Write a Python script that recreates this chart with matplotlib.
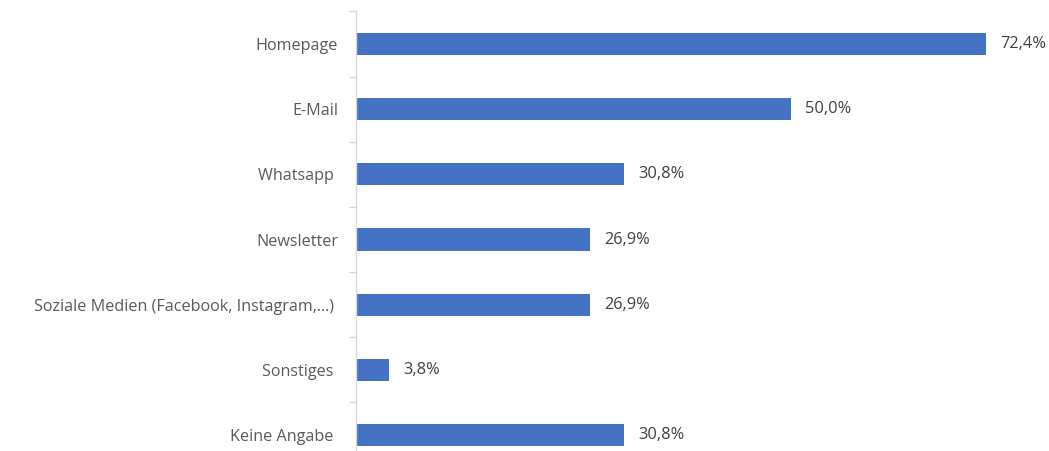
import matplotlib
matplotlib.use("Agg")
import matplotlib.pyplot as plt
from matplotlib.ticker import FixedLocator, NullFormatter

categories = ["Homepage", "E-Mail", "Whatsapp ", "Newsletter",
              "Soziale Medien (Facebook, Instagram,...) ", "Sonstiges ", "Keine Angabe "]
values = [72.4, 50.0, 30.8, 26.9, 26.9, 3.8, 30.8]
value_labels = ["72,4%", "50,0%", "30,8%", "26,9%", "26,9%", "3,8%", "30,8%"]

plt.rcParams['font.family'] = ['Open Sans', 'DejaVu Sans']

W, H = 1049, 451
fig = plt.figure(figsize=(W / 100, H / 100), dpi=100)
left_px = 356
px_per_unit = 8.70
top_px = 11.4
bottom_px = 467.6
ax = fig.add_axes([left_px / W, (H - bottom_px) / H, (W - left_px) / W, (bottom_px - top_px) / H])

y = list(range(len(categories)))
ax.barh(y, values, height=0.34, color="#4472C4")
ax.set_xlim(0, (W - left_px) / px_per_unit)
ax.set_ylim(len(categories) - 0.5, -0.5)

for yi, v, lab in zip(y, values, value_labels):
    ax.annotate(lab, (v, yi), xytext=(10, 0), textcoords="offset points",
                va="center", ha="left", fontsize=11.8, color="#404040")

ax.set_yticks(y)
ax.set_yticklabels(categories, fontsize=11.6, color="#595959")
ax.tick_params(axis="y", which="major", length=0, pad=13)
ax.yaxis.set_minor_locator(FixedLocator([i - 0.5 for i in range(len(categories) + 1)]))
ax.yaxis.set_minor_formatter(NullFormatter())
ax.tick_params(axis="y", which="minor", length=5, color="#D9D9D9", width=1)
ax.set_xticks([])
for s in ["top", "right", "bottom"]:
    ax.spines[s].set_visible(False)
ax.spines["left"].set_color("#D9D9D9")
ax.spines["left"].set_linewidth(1)

fig.savefig("out.png", dpi=100)
